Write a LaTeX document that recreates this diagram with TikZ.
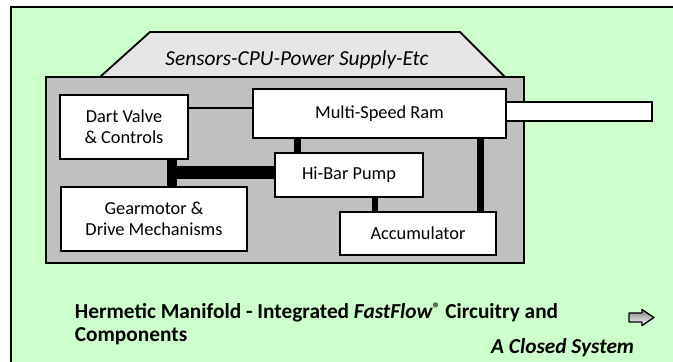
\documentclass[tikz,border=0pt]{standalone}
\usepackage{fontspec}
\setmainfont{Carlito}
\definecolor{ink}{HTML}{000000}
\definecolor{mint}{HTML}{CCFFCC}
\definecolor{steel}{HTML}{C0C0C0}
\definecolor{lid}{HTML}{E6E6E6}
\definecolor{shade}{HTML}{7A7A7A}

\begin{document}
\begin{tikzpicture}[x=0.6pt,y=-0.6pt,text=ink,
    font=\fontsize{11pt}{12.8pt}\selectfont,
    big/.style={font=\fontsize{12.8pt}{13.4pt}\selectfont#1},
    part/.style={draw=ink,line width=1.1pt,fill=white,align=center,inner sep=0pt},
    bar/.style={draw=ink,line cap=butt}]
  \useasboundingbox (0,0) rectangle (673,362);
  \fill[mint] (11,7) rectangle (673,362);
  \draw[ink,line width=1.5pt] (11,362)--(11,7)--(673,7);

  \draw[ink,line width=1.1pt,fill=lid] (100,77)--(150,32)--(460,32)--(505,77);
  \node[big=\itshape] (cpu) at (297,60) {Sensors-CPU-Power Supply-Etc};
  \draw[ink,line width=1.1pt,fill=steel] (46,77) rectangle (524,263);

  \node[part,minimum width=76.8pt,minimum height=38.4pt] (dart) at (124,127)
    {Dart Valve\\\& Controls};
  \node[part,minimum width=151.8pt,minimum height=29.4pt] (ram) at (379.5,113.5)
    {Multi-Speed Ram};
  \node[part,minimum width=87.6pt,minimum height=11.4pt] (rod) at (579,111.5) {};
  \node[part,minimum width=88.8pt,minimum height=26.4pt] (pump) at (349,175)
    {Hi-Bar Pump};
  \node[part,minimum width=111.6pt,minimum height=38.4pt] (gear) at (154,219)
    {Gearmotor \&\\Drive Mechanisms};
  \node[part,minimum width=93.6pt,minimum height=25.8pt] (accum) at (418,233.5)
    {Accumulator};

  \coordinate (tap) at (0,108);
  \coordinate (jn) at (172,173);
  \coordinate (rp) at (297.5,0);
  \coordinate (pa) at (375,0);
  \coordinate (ra) at (480.5,0);
  \draw[ink,line width=0.7pt] (tap -| dart.east) -- (tap -| ram.west);
  \draw[bar,line width=6pt] (dart.south -| jn) -- (gear.north -| jn);
  \draw[bar,line width=7.8pt] ([xshift=-3pt]jn) -- (jn -| pump.west);
  \draw[bar,line width=4.2pt] (rp |- ram.south) -- (rp |- pump.north);
  \draw[bar,line width=3.6pt] (pa |- pump.south) -- (pa |- accum.north);
  \draw[bar,line width=4.2pt] (ra |- ram.south) -- (ra |- accum.north);

  \node[anchor=west,align=left,big=\bfseries] (caption) at (69,324)
    {Hermetic Manifold - Integrated
     \textit{FastFlow}\raisebox{.5ex}{\fontsize{9pt}{9pt}\selectfont ®} Circuitry and\\
     Components};
  \node[anchor=east,big=\bfseries\itshape] (closed) at (640,348) {A Closed System};
  \draw[shade,line width=0.8pt,fill=white,line join=round]
    (629,313)--(642,313)--(642,309.5)--(654,317.5)--(642,325.5)--(642,322)--(629,322)--cycle;
\end{tikzpicture}
\end{document}
